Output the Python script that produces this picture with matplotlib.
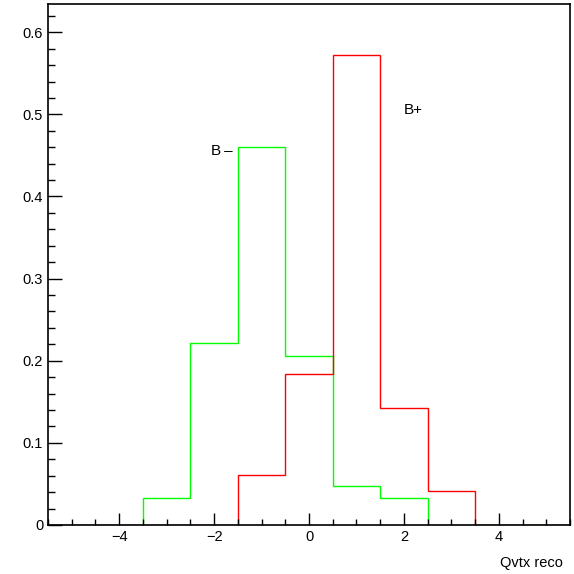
import matplotlib
matplotlib.use("Agg")
import matplotlib.pyplot as plt
import numpy as np
from matplotlib.ticker import MultipleLocator

plt.rcParams['font.family'] = ['Liberation Sans', 'DejaVu Sans']

# bin edges -5.5 .. 5.5, unit width
edges = np.arange(-5.5, 6.0, 1.0)
b_minus = [0, 0, 0.033, 0.222, 0.460, 0.206, 0.047, 0.033, 0, 0, 0]
b_plus = [0, 0, 0, 0, 0.061, 0.184, 0.572, 0.143, 0.041, 0, 0]

fig = plt.figure(figsize=(5.74, 5.74), dpi=100)
ax = fig.add_axes([48/574, 49/574, 522/574, 521.5/574])

ax.stairs(b_minus, edges, color='#00ff00', lw=1.0)
ax.stairs(b_plus, edges, color='#ff0000', lw=1.0)
for s in ax.spines.values():
    s.set_linewidth(1.2)
    s.set_zorder(5)

ax.set_xlim(-5.5, 5.5)
ax.set_ylim(0, 0.635)
ax.xaxis.set_major_locator(MultipleLocator(2))
ax.xaxis.set_minor_locator(MultipleLocator(0.5))
ax.yaxis.set_major_locator(MultipleLocator(0.1))
ax.yaxis.set_minor_locator(MultipleLocator(0.02))
ax.tick_params(which='both', direction='in', top=False, right=False, labelsize=10.5, width=1)
ax.tick_params(axis='x', which='major', length=9)
ax.tick_params(axis='x', which='minor', length=4)
ax.tick_params(axis='y', which='major', length=10)
ax.tick_params(axis='y', which='minor', length=5)
ax.set_yticks([0, 0.1, 0.2, 0.3, 0.4, 0.5, 0.6], ['0', '0.1', '0.2', '0.3', '0.4', '0.5', '0.6'])

ax.text(-1.6, 0.455, 'B\u2009\u2013', ha='right', va='center', fontsize=11)
ax.text(2.0, 0.505, 'B+', ha='left', va='center', fontsize=11)
fig.text(563/574, 1 - 563/574, 'Qvtx reco', ha='right', va='center', fontsize=10.5)

plt.savefig("out.png", dpi=100)
